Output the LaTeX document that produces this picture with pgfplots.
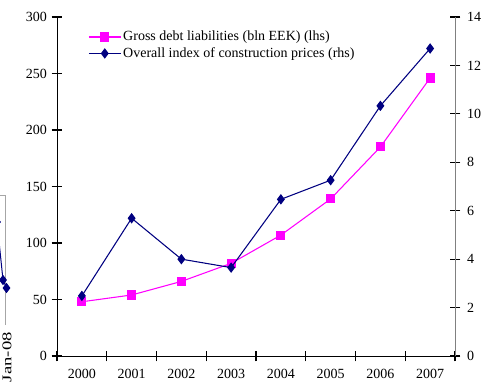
\documentclass[border=0pt]{standalone}
\usepackage{fontspec}
\setmainfont{Liberation Serif}
\usepackage{graphicx}
\usepackage{pgfplots}
\pgfplotsset{compat=1.18}
\definecolor{pinkc}{RGB}{255,0,255}
\definecolor{navyc}{RGB}{0,0,128}
\begin{document}
\begin{tikzpicture}
\path[use as bounding box] (0,0) rectangle (368.25pt,291.75pt);
\clip (0,0) rectangle (368.25pt,291.75pt);
% clipped fragment of a neighbouring chart
\begin{axis}[at={(-30pt,48pt)}, anchor=south west, scale only axis,
  width=34.5pt, height=97.5pt, xmin=-40, xmax=6, ymin=-325, ymax=-195,
  axis x line*=top, axis y line*=right,
  axis line style={gray!70, line width=0.75pt},
  xtick=\empty, ytick=\empty, clip=false]
\addplot[navyc, line width=0.75pt, mark=diamond*, mark size=3.3pt] coordinates {(-3,-222) (3,-280) (6.5,-288)};
\node[rotate=90, anchor=east, inner sep=0pt, font=\fontsize{10}{12}\selectfont] at (axis cs:7,-332) {\scalebox{1.4}[1]{Jan-08}};
\end{axis}
% main chart
\begin{axis}[at={(42.75pt,24.75pt)}, anchor=south west, scale only axis,
  width=298.5pt, height=254.25pt,
  xmin=-0.5, xmax=7.5, ymin=0, ymax=300,
  axis x line*=bottom, axis y line*=left,
  axis line style={black, line width=0.75pt},
  tick style={black, line width=0.8pt},
  tick align=center, major tick length=8pt,
  ytick distance=50,
  xtick={-0.5,0.5,1.5,2.5,3.5,4.5,5.5,6.5,7.5},
  xticklabels={},
  hide obscured x ticks=false,
  extra x ticks={0,1,2,3,4,5,6,7},
  extra x tick labels={2000,2001,2002,2003,2004,2005,2006,2007},
  extra x tick style={major tick length=0pt},
  xticklabel shift=6pt,
  /pgf/number format/assume math mode=true,
  tick label style={font=\fontsize{10.5}{12}\selectfont},
  legend style={at={(0.078,0.965)}, anchor=north west, draw=none, fill=none,
    font=\fontsize{10.5}{12}\selectfont, inner sep=0pt, row sep=0.5pt,
    nodes={inner sep=1.5pt}},
  legend cell align=left,
  legend image code/.code={\draw[mark repeat=2,mark phase=2] plot coordinates {(0cm,0cm) (0.42cm,0cm) (0.84cm,0cm)};},
  clip=false]
\addplot[pinkc, line width=0.8pt, mark=square*, mark size=3pt] coordinates {
(0,48) (1,54) (2,66) (3,82) (4,107) (5,139) (6,185) (7,246)};
\addlegendentry{Gross debt liabilities (bln EEK) (lhs)}
\addlegendimage{navyc, line width=0.8pt, mark=diamond*, mark size=3.3pt}
\addlegendentry{Overall index of construction prices (rhs)}
\end{axis}
\begin{axis}[at={(42.75pt,24.75pt)}, anchor=south west, scale only axis,
  width=298.5pt, height=254.25pt,
  xmin=-0.5, xmax=7.5, ymin=0, ymax=14,
  axis x line=none, axis y line*=right,
  axis line style={gray, line width=0.75pt},
  tick style={black, line width=0.8pt},
  tick align=center, major tick length=8pt,
  ytick distance=2,
  yticklabel style={xshift=1.5pt},
  /pgf/number format/assume math mode=true,
  tick label style={font=\fontsize{10.5}{12}\selectfont},
  clip=false]
\addplot[navyc, line width=0.8pt, mark=diamond*, mark size=3.3pt] coordinates {
(0,2.48) (1,5.69) (2,4.0) (3,3.65) (4,6.47) (5,7.26) (6,10.33) (7,12.70)};
\end{axis}
\end{tikzpicture}
\end{document}
